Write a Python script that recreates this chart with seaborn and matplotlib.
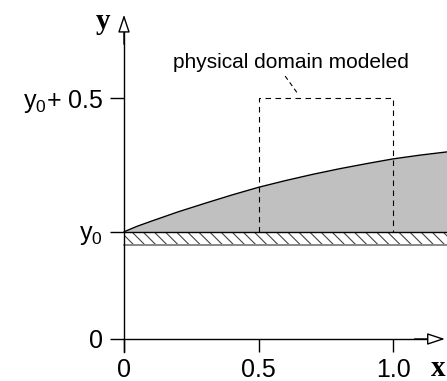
import matplotlib
matplotlib.use("Agg")
import matplotlib.pyplot as plt
import seaborn as sns

# ---- data ----
y0 = 0.4
band_bottom = 0.35
curve_x = [0, 0.05, 0.1, 0.2, 0.3, 0.4, 0.5, 0.6, 0.7, 0.8, 0.9, 1.0, 1.1, 1.2]
curve_y = [0.400, 0.421, 0.439, 0.474, 0.506, 0.537, 0.566, 0.591, 0.614,
           0.635, 0.654, 0.672, 0.686, 0.698]
domain_x = [0.5, 0.5, 1.0, 1.0]
domain_y = [0.4, 0.9, 0.9, 0.4]
xticks = [0, 0.5, 1.0]
xticklabels = ["0", "0.5", "1.0"]
yticks = [0, 0.4, 0.9]
yticklabels = ["0", r"$\mathregular{y_0}$", r"$\mathregular{y_0}$+ 0.5"]
annot_text = "physical domain modeled"

sns.set_style("white")
plt.rcParams["font.family"] = ["Liberation Sans", "DejaVu Sans"]
plt.rcParams["hatch.linewidth"] = 0.8
plt.rcParams["text.color"] = "black"

fig = plt.figure(figsize=(4.47, 3.81), dpi=100)
ax = fig.add_axes([0, 0, 1, 1])
ax.set_xlim(-124 / 269, 323 / 269)
ax.set_ylim(-42 / 268, 339 / 268)
ax.patch.set_alpha(0)

# grey region under curve
ax.fill_between(curve_x, y0, curve_y, color="#c0c0c0", lw=0, zorder=1)
sns.lineplot(x=curve_x, y=curve_y, color="black", lw=1.0, ax=ax, zorder=3)

# hatched wall band
ax.fill_between([curve_x[0], curve_x[-1]], band_bottom, y0, facecolor="white",
                edgecolor="#444444", hatch="\\\\\\", lw=0, zorder=1)
ax.plot([curve_x[0], curve_x[-1]], [band_bottom, band_bottom], color="#888888", lw=1.4, zorder=2)
ax.plot([curve_x[0], curve_x[-1]], [y0, y0], color="black", lw=1.0, zorder=3)

# dashed domain rectangle
ax.plot(domain_x, domain_y, color="black", lw=0.8, ls=(0, (5, 4)), zorder=4)

# annotation
ax.text(0.62, 1.011, annot_text, ha="center", va="baseline", fontsize=15, color="black")
ax.plot([0.599, 0.647], [0.981, 0.914], color="black", lw=0.8, ls=(0, (4, 3)))

# axes spines
for s in ["top", "right"]:
    ax.spines[s].set_visible(False)
ax.spines["left"].set_position(("data", 0))
ax.spines["bottom"].set_position(("data", 0))
ax.spines["left"].set_bounds(-0.049, 1.16)
ax.spines["bottom"].set_bounds(0, 1.14)
for s in ["left", "bottom"]:
    ax.spines[s].set_color("black")
    ax.spines[s].set_linewidth(1.0)
    ax.spines[s].set_zorder(5)

arrow_kw = dict(arrowstyle="-|>,head_length=10.8,head_width=3.6", mutation_scale=1,
                fc="white", ec="black", lw=1.0, shrinkA=0, shrinkB=0)
ax.annotate("", xy=(0, 1.21), xytext=(0, 1.1), arrowprops=arrow_kw, zorder=6)
ax.annotate("", xy=(1.193, 0), xytext=(1.08, 0), arrowprops=arrow_kw, zorder=6)

ax.set_xticks(xticks)
ax.set_xticklabels(xticklabels)
ax.set_yticks(yticks)
ax.set_yticklabels(yticklabels)
ax.tick_params(axis="x", direction="out", length=9.5, width=1, pad=4.5, labelsize=18,
               bottom=True, colors="black")
ax.tick_params(axis="y", direction="out", length=10, width=1, pad=5, labelsize=18,
               left=True, colors="black")

# axis labels
ax.text(-0.078, 1.157, "y", ha="center", va="baseline", fontsize=21,
        family=["Liberation Serif", "DejaVu Serif"], fontweight="bold")
ax.text(1.168, -0.138, "x", ha="center", va="baseline", fontsize=21,
        family=["Liberation Serif", "DejaVu Serif"], fontweight="bold")

ax.grid(False)
fig.savefig("out.png", dpi=100)
